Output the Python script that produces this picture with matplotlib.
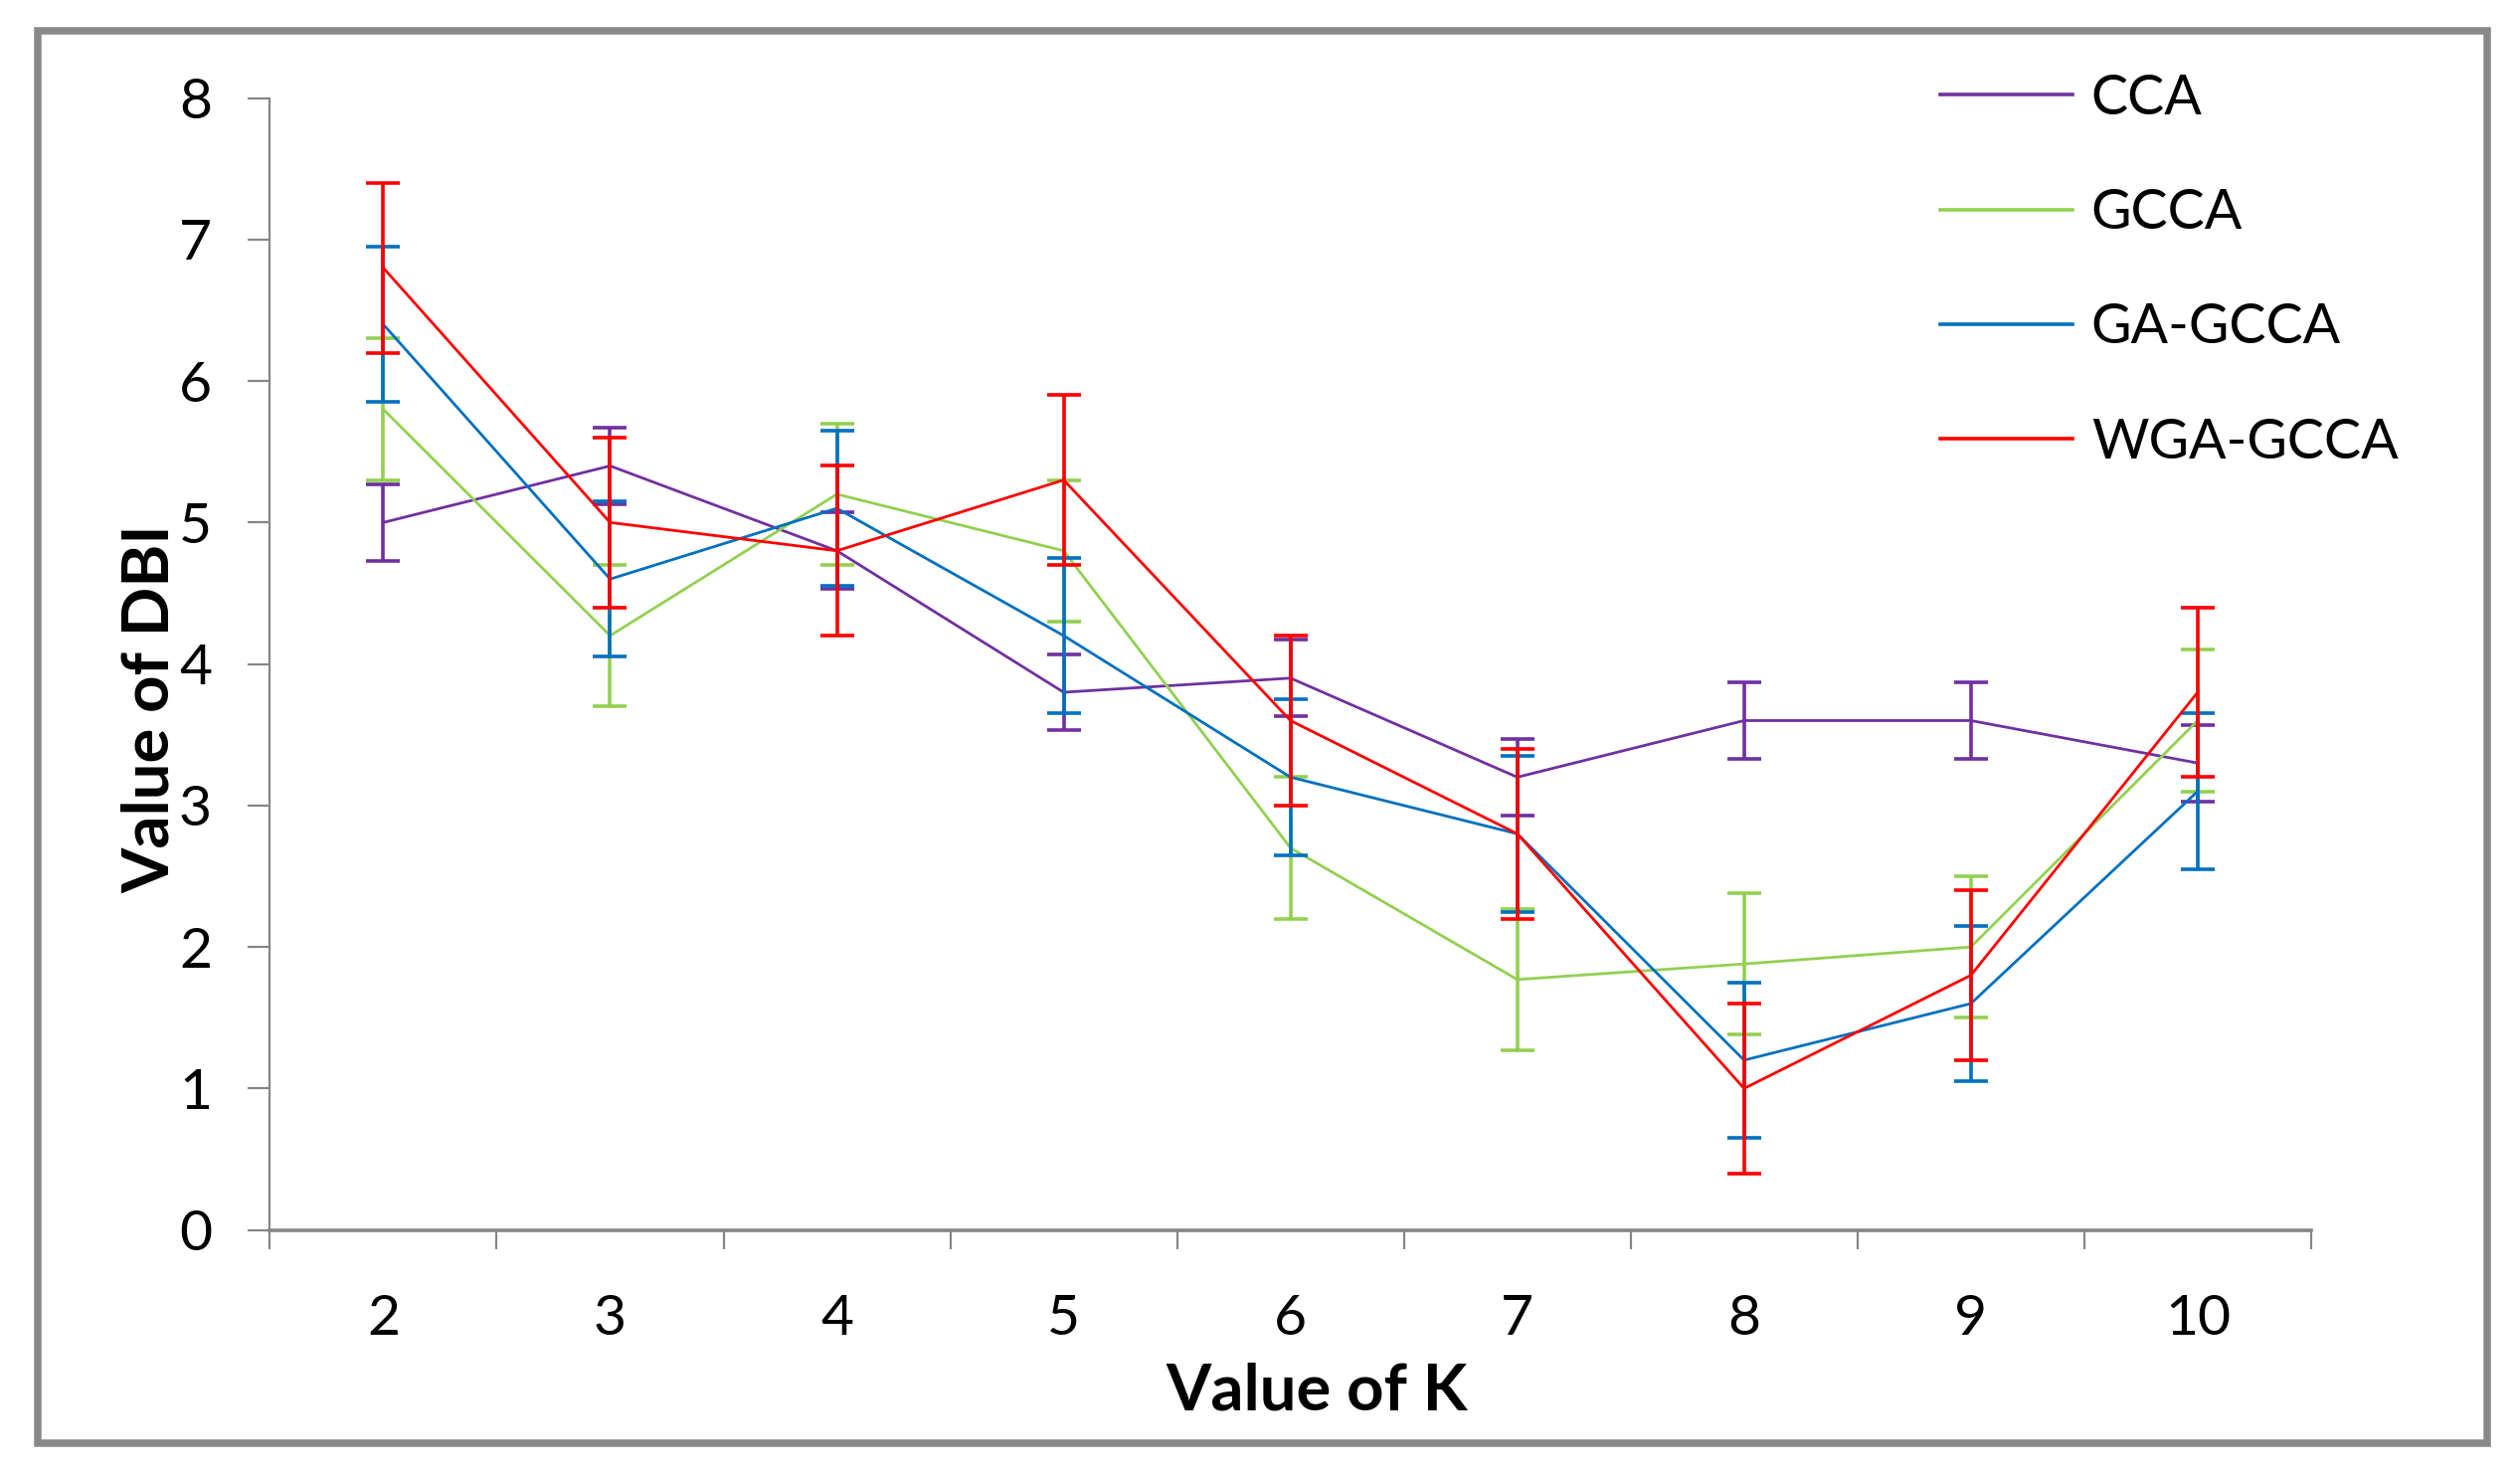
import matplotlib
matplotlib.use("Agg")
import matplotlib.pyplot as plt
from matplotlib.patches import Rectangle
from matplotlib.lines import Line2D

# ---- data ----
k_values = [2, 3, 4, 5, 6, 7, 8, 9, 10]
series_names = ["CCA", "GCCA", "GA-GCCA", "WGA-GCCA"]
cca = [5.0, 5.4, 4.8, 3.8, 3.9, 3.2, 3.6, 3.6, 3.3]
gcca = [5.8, 4.2, 5.2, 4.8, 2.7, 1.77, 1.88, 2.0, 3.6]
ga_gcca = [6.4, 4.6, 5.1, 4.2, 3.2, 2.8, 1.2, 1.6, 3.1]
wga_gcca = [6.8, 5.0, 4.8, 5.3, 3.6, 2.8, 1.0, 1.8, 3.8]
cca_err = [0.27, 0.27, 0.27, 0.27, 0.27, 0.27, 0.27, 0.27, 0.27]
gcca_err = [0.5, 0.5, 0.5, 0.5, 0.5, 0.5, 0.5, 0.5, 0.5]
ga_gcca_err = [0.55, 0.55, 0.55, 0.55, 0.55, 0.55, 0.55, 0.55, 0.55]
wga_gcca_err = [0.6, 0.6, 0.6, 0.6, 0.6, 0.6, 0.6, 0.6, 0.6]
y_ticks = [0, 1, 2, 3, 4, 5, 6, 7, 8]

colors = ["#7030A0", "#92D050", "#0070C0", "#FF0000"]
values = [cca, gcca, ga_gcca, wga_gcca]
errors = [cca_err, gcca_err, ga_gcca_err, wga_gcca_err]

plt.rcParams['font.family'] = ['Lato', 'DejaVu Sans']

fig = plt.figure(figsize=(25.34, 14.84), dpi=100)
ax = fig.add_axes([0.1071, 0.1667, 0.8100, 0.7669])

handles = []
for i, (name, v, e, c) in enumerate(zip(series_names, values, errors, colors)):
    ax.plot(k_values, v, color=c, lw=2.0, zorder=3 + i, solid_joinstyle='miter')
    ax.errorbar(k_values, v, yerr=e, fmt='none', ecolor=c, elinewidth=2.6,
                capsize=12, capthick=2.6, zorder=3 + i)
    handles.append(Line2D([0], [0], color=c, lw=2.6, label=name))

ax.set_xlim(1.5, 10.5)
ax.set_ylim(0, 8)
ax.set_yticks(y_ticks)
ax.set_xticks(k_values)
ax.set_xticks([x + 0.5 for x in [1] + k_values], minor=True)

gray = "#868686"
for s in ["top", "right"]:
    ax.spines[s].set_visible(False)
ax.spines["left"].set_color(gray)
ax.spines["left"].set_linewidth(1.6)
ax.spines["bottom"].set_color(gray)
ax.spines["bottom"].set_linewidth(2.6)

ax.tick_params(axis='y', which='major', direction='out', length=16, width=1.6,
               color=gray, labelsize=41, pad=26)
ax.tick_params(axis='x', which='major', length=0, labelsize=41, pad=46)
ax.tick_params(axis='x', which='minor', direction='out', length=14, width=1.6,
               color=gray)

ax.set_xlabel("Value of K", fontsize=47, fontweight='bold', va='baseline')
ax.xaxis.set_label_coords(0.513, -0.159)
ax.set_ylabel("Value of DBI", fontsize=47, fontweight='bold', va='baseline')
ax.yaxis.set_label_coords(-0.0495, 0.46)

fig.legend(handles=handles, loc='upper left', bbox_to_anchor=(0.761, 0.9654),
           frameon=False, fontsize=40, handlelength=2.41, handletextpad=0.33,
           labelspacing=1.16, borderaxespad=0)

# outer chart frame
fig.add_artist(Rectangle((0.0150, 0.0222), 0.9718, 0.9566, transform=fig.transFigure,
                         fill=False, edgecolor="#888888", lw=5.4, joinstyle='miter'))

fig.savefig("out.png", dpi=100)
